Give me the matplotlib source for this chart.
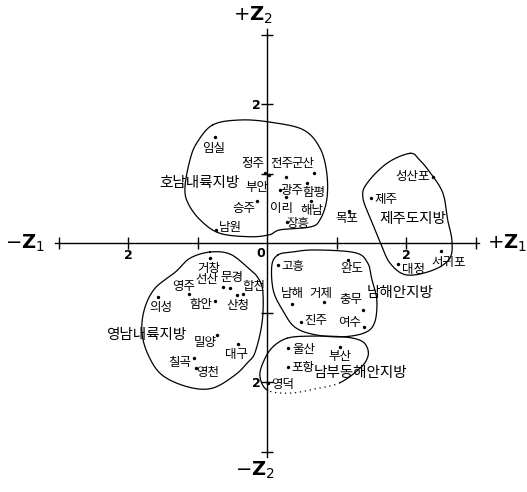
import numpy as np
import matplotlib
matplotlib.use("Agg")
import matplotlib.pyplot as plt

plt.rcParams['font.family'] = ['Noto Sans CJK KR', 'DejaVu Sans']

# ---- data (Z1, Z2 scores) ----
names = ['임실', '정주', '전주', '군산', '부안', '광주', '함평', '이리', '해남', '장흥', '승주', '남원',
         '성산포', '제주', '목포', '서귀포', '대정',
         '거창', '영주', '선산', '문경', '합천', '산청', '함안', '의성', '밀양', '대구', '칠곡', '영천',
         '고흥', '완도', '남해', '거제', '충무', '여수', '진주',
         '울산', '부산', '포항', '영덕']
z1 = [-0.75, -0.03, 0.27, 0.68, 0.03, 0.19, 0.58, 0.27, 0.63, 0.29, -0.14, -0.73,
      2.39, 1.50, 1.18, 2.50, 1.88,
      -0.82, -1.12, -0.63, -0.53, -0.35, -0.43, -0.75, -1.57, -0.72, -0.42, -1.05, -1.02,
      0.16, 1.17, 0.36, 0.82, 1.38, 1.40, 0.49,
      0.30, 1.05, 0.30, 0.01]
z2 = [1.53, 1.01, 0.95, 1.01, 0.98, 0.76, 0.86, 0.66, 0.60, 0.30, 0.60, 0.19,
      0.95, 0.65, 0.46, -0.12, -0.30,
      -0.22, -0.73, -0.63, -0.65, -0.73, -0.75, -0.83, -0.78, -1.32, -1.45, -1.65, -1.80,
      -0.32, -0.24, -0.88, -0.85, -0.96, -1.21, -1.14,
      -1.51, -1.50, -1.78, -2.01]

regions = ['호남내륙지방', '제주도지방', '영남내륙지방', '남해안지방', '남부동해안지방']
region_z1 = [-0.98, 2.10, -1.74, 1.91, 1.34]
region_z2 = [0.86, 0.35, -1.32, -0.72, -1.87]

xticks = [-3, -2, -1, 1, 2, 3]
xticklabels = ['', '2', '', '', '2', '']
yticks = [-3, -2, -1, 1, 2, 3]
yticklabels = ['', '2', '', '', '2', '']

# region outlines (Z1, Z2)
outline_honam = [(-0.78, 1.70), (-0.39, 1.77), (0.04, 1.74), (0.52, 1.63), (0.76, 1.37), (0.86, 1.01),
                 (0.86, 0.62), (0.76, 0.33), (0.62, 0.23), (0.19, 0.19), (0.04, 0.12), (-0.24, 0.09),
                 (-0.68, 0.14), (-0.96, 0.33), (-1.14, 0.58), (-1.18, 0.81), (-1.11, 1.19), (-1.01, 1.44)]
outline_jeju = [(2.06, 1.29), (1.73, 1.15), (1.44, 0.86), (1.38, 0.65), (1.51, 0.30), (1.63, 0.01),
                (1.77, -0.29), (2.01, -0.46), (2.39, -0.39), (2.63, -0.22), (2.66, 0.04), (2.60, 0.33),
                (2.53, 0.72), (2.35, 1.01), (2.20, 1.19)]
outline_yeongnam = [(-0.82, -0.13), (-0.53, -0.16), (-0.27, -0.36), (-0.13, -0.50), (-0.06, -0.70),
                    (-0.07, -1.14), (-0.17, -1.57), (-0.27, -1.71), (-0.46, -1.90), (-0.79, -2.09),
                    (-1.14, -2.07), (-1.51, -1.90), (-1.71, -1.61), (-1.80, -1.28), (-1.76, -0.94),
                    (-1.61, -0.65), (-1.32, -0.42), (-1.11, -0.22)]
outline_namhae = [(0.16, -0.17), (0.07, -0.32), (0.09, -0.68), (0.22, -0.96), (0.40, -1.21), (0.69, -1.32),
                  (1.08, -1.35), (1.41, -1.29), (1.55, -1.14), (1.58, -0.82), (1.51, -0.53), (1.45, -0.29),
                  (1.27, -0.14), (0.69, -0.10), (0.36, -0.13)]
outline_east = [(0.29, -1.37), (0.62, -1.34), (1.09, -1.35), (1.34, -1.40), (1.44, -1.50), (1.45, -1.64),
                (1.34, -1.80), (1.05, -2.01), (0.69, -2.10), (0.33, -2.16), (0.01, -2.12), (-0.10, -1.93),
                (-0.06, -1.73), (0.07, -1.51)]

# label offsets in pixels (layout)
label_offsets = [(-1, -12), (-12, 9), (-4, 13), (-11, 9), (-12, -13), (12, 0), (7, -9), (-4, -11),
                 (1, -9), (11, -1), (-13, -7), (14, 2),
                 (-21, 0), (15, -2), (-2, -7), (8, -11), (16, -6),
                 (-1, -10), (-5, 7), (-16, 7), (2, 11), (11, 7), (1, -10), (-14, -4), (3, -10),
                 (-12, -8), (-1, -11), (-14, -5), (12, -4),
                 (15, -1), (4, -9), (0, 11), (-3, 9), (-12, 10), (-15, 5), (15, 2),
                 (16, -2), (0, -9), (15, -1), (15, -2)]


def closed_spline(pts, n=30):
    p = np.array(pts, dtype=float)
    m = len(p)
    out = []
    for i in range(m):
        p0, p1, p2, p3 = p[(i - 1) % m], p[i], p[(i + 1) % m], p[(i + 2) % m]
        t = np.linspace(0, 1, n, endpoint=False)[:, None]
        seg = 0.5 * ((2 * p1) + (-p0 + p2) * t + (2 * p0 - 5 * p1 + 4 * p2 - p3) * t ** 2
                     + (-p0 + 3 * p1 - 3 * p2 + p3) * t ** 3)
        out.append(seg)
    out = np.vstack(out)
    return np.vstack([out, out[:1]])


fig = plt.figure(figsize=(5.27, 4.92), dpi=100)
ax = fig.add_axes([0, 0, 1, 1])
ax.set_xlim(-267 / 69.5, 260 / 69.5)
ax.set_ylim(-249 / 69.5, 243 / 69.5)

for s in ['top', 'right']:
    ax.spines[s].set_visible(False)
ax.spines['left'].set_position(('data', 0))
ax.spines['bottom'].set_position(('data', 0))
ax.spines['left'].set_bounds(-3.08, 3.08)
ax.spines['bottom'].set_bounds(-3.05, 3.05)
for s in ['left', 'bottom']:
    ax.spines[s].set_linewidth(1.0)
ax.set_xticks(xticks)
ax.set_xticklabels(xticklabels)
ax.set_yticks(yticks)
ax.set_yticklabels(yticklabels)
ax.tick_params(direction='inout', length=9, width=1.0, labelsize=9, pad=0)
for lab in ax.get_xticklabels() + ax.get_yticklabels():
    lab.set_fontfamily('DejaVu Sans')
    lab.set_fontweight('bold')

ax.text(-0.03, -0.06, '0', ha='right', va='top', fontsize=9, family='DejaVu Sans', fontweight='bold')

# axis end labels
ax.text(-3.48, 0, r'$-\mathbf{Z}_{1}$', ha='center', va='center', fontsize=14)
ax.text(3.45, 0, r'$+\mathbf{Z}_{1}$', ha='center', va='center', fontsize=14)
ax.text(-0.2, 3.28, r'$+\mathbf{Z}_{2}$', ha='center', va='center', fontsize=14)
ax.text(-0.17, -3.27, r'$-\mathbf{Z}_{2}$', ha='center', va='center', fontsize=14)

# region outlines
for ol in [outline_honam, outline_jeju, outline_yeongnam, outline_namhae]:
    c = closed_spline(ol)
    ax.plot(c[:, 0], c[:, 1], color='black', lw=0.9)
c = closed_spline(outline_east)
n = 30
ax.plot(c[:7 * n + 1, 0], c[:7 * n + 1, 1], color='black', lw=0.9)
ax.plot(c[7 * n:10 * n + 1, 0], c[7 * n:10 * n + 1, 1], color='black', lw=0.9, ls=(0, (1, 3)))
ax.plot(c[10 * n:, 0], c[10 * n:, 1], color='black', lw=0.9)

# points
ax.scatter(z1, z2, s=6, c='black', linewidths=0, zorder=3)
for name, x, y, off in zip(names, z1, z2, label_offsets):
    ax.annotate(name, (x, y), xytext=off, textcoords='offset pixels',
                ha='center', va='center', fontsize=9)

for r, x, y in zip(regions, region_z1, region_z2):
    ax.text(x, y, r, ha='center', va='center', fontsize=10.5)

fig.savefig('out.png', dpi=100)
